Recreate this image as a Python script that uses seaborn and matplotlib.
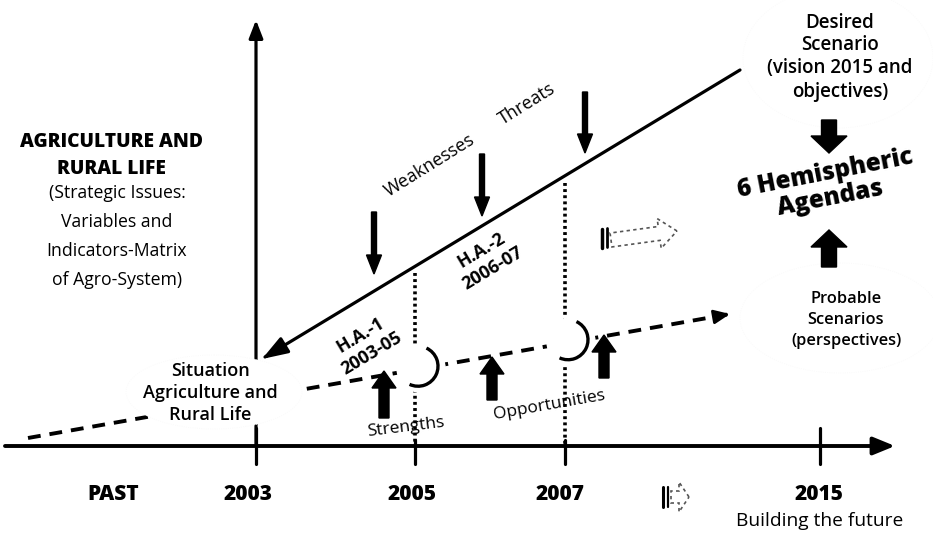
import numpy as np
import pandas as pd
import seaborn as sns
import matplotlib.pyplot as plt
from matplotlib.patches import Arc, Circle, Ellipse, FancyArrow

# Timeline labels along the bottom axis (pixel positions of the scheme)
timeline_labels = ["PAST", "2003", "2005", "2007", "2015"]
timeline_x = [113, 248, 412, 560, 819]
tick_x = [256, 415, 565, 820]

# Desired path (solid) and probable path (dashed)
desired_x = [265, 740]
desired_y = [357, 70]
probable_x = [28, 730]
probable_y = [438, 314]

# Milestones where dotted guides rise to the desired path
milestone_x = [415, 565]

# Weaknesses / threats arrows (tail y, head y)
threat_x = [374, 482, 585]
threat_tail = [212, 154, 92]
threat_head = [274, 216, 153]

# Strengths / opportunities arrows
strength_x = [384, 492, 604]
strength_tail = [418, 400, 378]
strength_head = [371, 357, 335]

sns.set_theme(style="white")
plt.rcParams["font.family"] = ["Open Sans", "DejaVu Sans"]
plt.rcParams["text.color"] = "black"

fig = plt.figure(figsize=(9.33, 5.34), dpi=100)
ax = fig.add_axes([0, 0, 1, 1])
ax.set_xlim(0, 933)
ax.set_ylim(534, 0)
ax.axis("off")

def slope_y(xs, ys, x):
    return ys[0] + (ys[1] - ys[0]) * (x - xs[0]) / (xs[1] - xs[0])

# faint scenario circles
ax.add_patch(Ellipse((838, 58), 190, 140, fill=False, ec="#f9f9f9", lw=0.6, ls=":"))
ax.add_patch(Ellipse((840, 318), 200, 110, fill=False, ec="#f9f9f9", lw=0.6, ls=":"))

# main paths
lines = pd.DataFrame({"x": desired_x, "y": desired_y})
sns.lineplot(data=lines, x="x", y="y", ax=ax, color="black", lw=2.3, sort=False, estimator=None)
ax.annotate("", xy=(desired_x[0] - 3, desired_y[0] + 2), xytext=(desired_x[0] + 20, desired_y[0] - 12),
            arrowprops=dict(arrowstyle="-|>,head_length=1.3,head_width=0.45", color="black", lw=2.3,
                            shrinkA=0, shrinkB=0))

prob = pd.DataFrame({"x": probable_x, "y": probable_y})
sns.lineplot(data=prob, x="x", y="y", ax=ax, color="black", lw=2.8, sort=False, estimator=None)
ax.lines[-1].set_linestyle((0, (3.3, 2.3)))
ax.annotate("", xy=(probable_x[1], probable_y[1]),
            xytext=(probable_x[1] - 14, slope_y(probable_x, probable_y, probable_x[1] - 14)),
            arrowprops=dict(arrowstyle="-|>,head_length=0.8,head_width=0.35", color="black", lw=2,
                            shrinkA=0, shrinkB=0))

# dotted guides
for mx in milestone_x:
    ytop = slope_y(desired_x, desired_y, mx) + 7
    ax.plot([mx, mx], [ytop, 446], color="black", lw=2.6, ls=(0, (0.8, 0.9)), zorder=2)

# crescents ("moons") on the probable path
for mx in milestone_x:
    cy = slope_y(probable_x, probable_y, mx + 8)
    ax.add_patch(Circle((mx + 6, cy), 24, color="white", zorder=3))
    ax.add_patch(Arc((mx + 3, cy - 2), 40, 40, theta1=-65, theta2=115, color="black", lw=2.4, zorder=4))

# horizontal time axis
ax.annotate("", xy=(895, 446), xytext=(5, 446),
            arrowprops=dict(arrowstyle="-|>,head_length=1.1,head_width=0.45", color="black", lw=2.8,
                            shrinkA=0, shrinkB=0), zorder=5)
for tx in tick_x:
    ax.plot([tx, tx], [428 if tx in (256, 820) else 440, 464], color="black", lw=2.3, zorder=5)

# vertical axis at 2003
ax.annotate("", xy=(256, 20), xytext=(256, 446),
            arrowprops=dict(arrowstyle="-|>,head_length=0.9,head_width=0.35", color="black", lw=2.3,
                            shrinkA=0, shrinkB=0), zorder=2)

# white bubble behind the current situation
ax.add_patch(Ellipse((214, 392), 176, 74, fc="white", ec="#f9f9f9", lw=0.6, ls=":", zorder=6))

# weakness / threat arrows
for x, t, h in zip(threat_x, threat_tail, threat_head):
    ax.add_patch(FancyArrow(x, t, 0, h - t, width=5, head_width=15, head_length=19,
                            length_includes_head=True, color="black", zorder=6))

# strength / opportunity arrows
for x, t, h in zip(strength_x, strength_tail, strength_head):
    ax.add_patch(FancyArrow(x, t, 0, h - t, width=10, head_width=24, head_length=17,
                            length_includes_head=True, color="black", zorder=6))

# big arrows toward the agendas
ax.add_patch(FancyArrow(829, 120, 0, 33, width=15, head_width=36, head_length=17,
                        length_includes_head=True, color="black"))
ax.add_patch(FancyArrow(829, 267, 0, -37, width=15, head_width=36, head_length=17,
                        length_includes_head=True, color="black"))

# hollow dashed arrows
def hollow_arrow(x, y, dx, dy, w, hw, hl):
    ax.add_patch(FancyArrow(x, y, dx, dy, width=w, head_width=hw, head_length=hl,
                            length_includes_head=True, fc="white", ec="#555555", lw=1.2, ls=(0, (2, 2))))

ax.plot([602, 602], [229, 248], color="black", lw=2.5)
ax.plot([607, 607], [228, 247], color="black", lw=2)
hollow_arrow(611, 240, 66, -9, 14, 30, 18)
ax.plot([663, 663], [487, 507], color="black", lw=2.2)
ax.plot([668, 668], [487, 507], color="black", lw=1.6)
hollow_arrow(671, 497, 18, 0, 12, 30, 10)

# texts
ax.text(112, 142, "AGRICULTURE AND", ha="center", va="center", fontsize=13.8, fontweight=800)
ax.text(111, 169, "RURAL LIFE", ha="center", va="center", fontsize=13.8, fontweight=800)
for i, s in enumerate(["(Strategic Issues:", "Variables and", "Indicators-Matrix", "of Agro-System)"]):
    ax.text(117, 193 + i * 29, s, ha="center", va="center", fontsize=12.7)

ax.text(210, 393, "Situation\nAgriculture and\nRural Life", ha="center", va="center", fontsize=13,
        fontweight="semibold", linespacing=1.27, zorder=7)

ax.text(430, 166, "Weaknesses", ha="center", va="center", fontsize=13, rotation=32, rotation_mode="anchor")
ax.text(527, 104, "Threats", ha="center", va="center", fontsize=13, rotation=32, rotation_mode="anchor")
ax.text(366, 344, "H.A.-1\n2003-05", ha="center", va="center", fontsize=13, fontweight="bold",
        rotation=31, rotation_mode="anchor", linespacing=1.25)
ax.text(487, 259, "H.A.-2\n2006-07", ha="center", va="center", fontsize=13, fontweight="bold",
        rotation=31, rotation_mode="anchor", linespacing=1.25)
ax.text(406, 427, "Strengths", ha="center", va="center", fontsize=12.5, rotation=7, rotation_mode="anchor",
        zorder=7)
ax.text(549, 405, "Opportunities", ha="center", va="center", fontsize=12.5, rotation=10,
        rotation_mode="anchor")

ax.text(840, 57, "Desired\nScenario\n(vision 2015 and\nobjectives)", ha="center", va="center",
        fontsize=13.5, fontweight="semibold", linespacing=1.2)
ax.text(828, 186, "6 Hemispheric\nAgendas", ha="center", va="center", fontsize=17.5, fontweight=800,
        rotation=11, rotation_mode="anchor", linespacing=1.0)
ax.text(846, 320, "Probable\nScenarios\n(perspectives)", ha="center", va="center", fontsize=11.8,
        fontweight="semibold", linespacing=1.38)

for lab, x in zip(timeline_labels, timeline_x):
    ax.text(x, 495, lab, ha="center", va="center", fontsize=15, fontweight=800)
ax.text(820, 521, "Building the future", ha="center", va="center", fontsize=13.8)

fig.savefig("out.png", dpi=100)
